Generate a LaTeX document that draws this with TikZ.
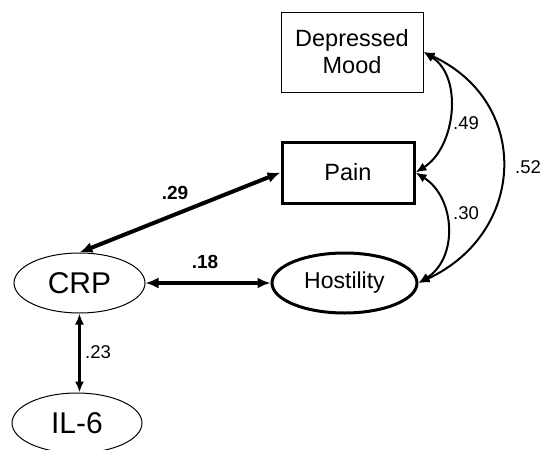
\documentclass[tikz,border=0pt]{standalone}
\usepackage{fontspec}
\setmainfont{Liberation Sans}
\usetikzlibrary{shapes.geometric}
\usetikzlibrary{arrows.meta}
\tikzset{
   indicator/.style={draw=black, line width=1pt, rectangle, inner sep=0pt,
      align=center, font=\fontsize{23.5}{27}\selectfont},
   latent/.style={draw=black, line width=1pt, ellipse, inner sep=0pt,
      minimum width=131pt, minimum height=60pt, font=\fontsize{30}{32}\selectfont},
   link/.style={<->, >={Latex[length=13pt,width=11pt]}, line width=4pt},
   cov/.style={<->, >={Latex[length=11pt,width=9pt]}, line width=2pt},
   coef/.style={font=\fontsize{18.5}{20}\selectfont},
   }

\begin{document}
\begin{tikzpicture}[x=1pt, y=-1pt]
            \useasboundingbox (0,0) rectangle (544,450);
            \node[indicator, minimum width=142pt, minimum height=80pt] (dm) at (352,52) {Depressed\\Mood};
            \node[indicator, line width=3pt, minimum width=132pt, minimum height=61pt] (pain) at (348,172.5) {Pain};
            \node[latent, line width=3pt, minimum width=145pt, font=\fontsize{23}{26}\selectfont] (host) at (344.5,283) {Hostility};
            \node[latent] (crp) at (79.5,283) {CRP};
            \node[latent, minimum width=130pt] (il6) at (77,423) {IL-6};
            \draw[link](crp.north)--(pain.west);
            \draw[link](crp.east)--(host.west);
            \draw[link, line width=2.5pt, >={Latex[length=11pt,width=9pt]}](crp.south)--(crp.south |- il6.north);
            \draw[cov](dm.east) .. controls +(40,25) and +(40,-25) .. (pain.east);
            \draw[cov](pain.east) .. controls +(40,25) and +(40,-25) .. (host.east);
            \draw[cov](dm.east) .. controls +(108,50) and +(108,-50) .. (host.east);
            \node[coef, font=\fontsize{19}{20}\bfseries] (b29) at (175,193) {.29};
            \node[coef, font=\fontsize{19}{20}\bfseries] (b18) at (205,262) {.18};
            \node[coef] (b23) at (98,352) {.23};
            \node[coef] (b49) at (466,123) {.49};
            \node[coef] (b30) at (466,213) {.30};
            \node[coef] (b52) at (528,167) {.52};

        \end{tikzpicture}
\end{document}
